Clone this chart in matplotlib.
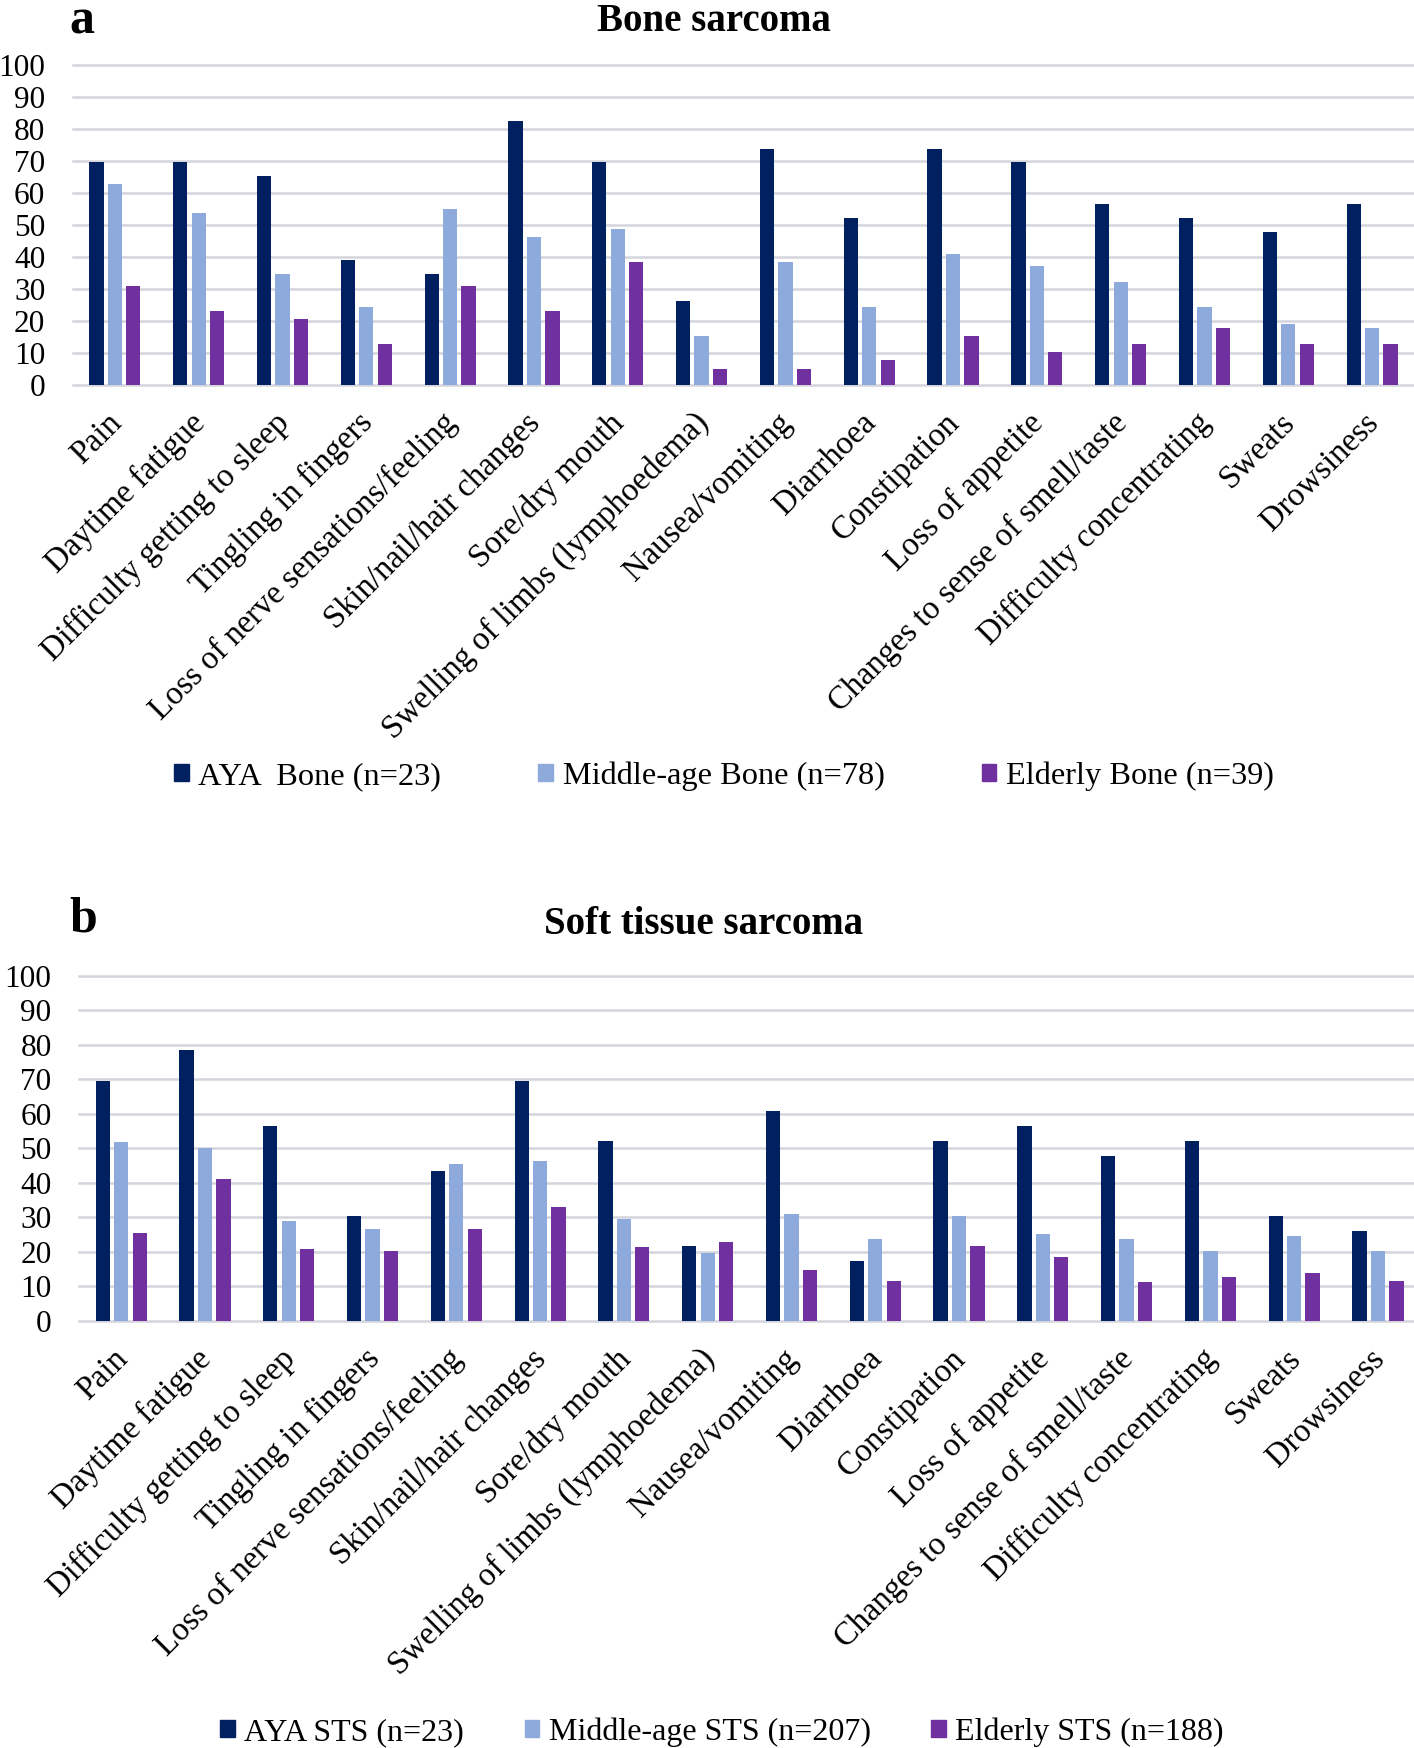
import matplotlib
matplotlib.use("Agg")
import matplotlib.pyplot as plt
import matplotlib.transforms as mtransforms
from matplotlib.patches import Patch
import numpy as np

plt.rcParams['font.family'] = ['Liberation Serif', 'DejaVu Serif']

symptoms = ["Pain", "Daytime fatigue", "Difficulty getting to sleep",
            "Tingling in fingers", "Loss of nerve sensations/feeling",
            "Skin/nail/hair changes", "Sore/dry mouth",
            "Swelling of limbs (lymphoedema)", "Nausea/vomiting", "Diarrhoea",
            "Constipation", "Loss of appetite", "Changes to sense of smell/taste",
            "Difficulty concentrating", "Sweats", "Drowsiness"]

# panel a: bone sarcoma (%)
bone_aya = [69.6, 69.6, 65.2, 39.1, 34.8, 82.6, 69.6, 26.1,
            73.9, 52.2, 73.9, 69.6, 56.5, 52.2, 47.8, 56.5]
bone_mid = [62.8, 53.8, 34.6, 24.4, 55.1, 46.2, 48.7, 15.4,
            38.5, 24.4, 41.0, 37.2, 32.1, 24.4, 19.2, 17.9]
bone_eld = [30.8, 23.1, 20.5, 12.8, 30.8, 23.1, 38.5, 5.1,
            5.1, 7.7, 15.4, 10.3, 12.8, 17.9, 12.8, 12.8]

# panel b: soft tissue sarcoma (%)
sts_aya = [69.6, 78.3, 56.5, 30.4, 43.5, 69.6, 52.2, 21.7,
           60.9, 17.4, 52.2, 56.5, 47.8, 52.2, 30.4, 26.1]
sts_mid = [51.7, 50.2, 29.0, 26.6, 45.4, 46.4, 29.5, 19.8,
           30.9, 23.7, 30.4, 25.1, 23.7, 20.3, 24.6, 20.3]
sts_eld = [25.5, 41.0, 20.7, 20.2, 26.6, 33.0, 21.3, 22.9,
           14.9, 11.7, 21.8, 18.6, 11.2, 12.8, 13.8, 11.7]

bone_labels = ["AYA  Bone (n=23)", "Middle-age Bone (n=78)", "Elderly Bone (n=39)"]
sts_labels = ["AYA STS (n=23)", "Middle-age STS (n=207)", "Elderly STS (n=188)"]

colors = ["#002060", "#8EA9DB", "#7030A0"]
grid_col = "#D4D4DC"

W, H = 1414, 1748
fig = plt.figure(figsize=(W / 100, H / 100), dpi=100)


def panel(rect, series, xmax):
    ax = fig.add_axes(rect)
    x = np.arange(len(symptoms))
    w = 0.17
    step = 0.22
    for i, vals in enumerate(series):
        ax.bar(x + (i - 1) * step, vals, width=w, color=colors[i], zorder=3)
    ax.set_xlim(-0.5, xmax)
    ax.set_ylim(0, 100)
    ax.set_yticks(range(0, 101, 10))
    ax.yaxis.grid(True, color=grid_col, linewidth=1.8)
    for gl in ax.get_ygridlines():
        gl.set_clip_on(False)
    ax.set_axisbelow(True)
    for s in ax.spines.values():
        s.set_visible(False)
    ax.tick_params(axis='y', length=0, pad=20, labelsize=22.5)
    ax.tick_params(axis='x', length=0, pad=24)
    ax.set_xticks(x)
    ax.set_xticklabels(symptoms, rotation=45, ha='right', va='center',
                       rotation_mode='anchor', fontsize=23.5)
    off = mtransforms.ScaledTranslation(2 / 100, 0, fig.dpi_scale_trans)
    for lab in ax.get_xticklabels():
        lab.set_transform(lab.get_transform() + off)
    return ax


ax1 = panel([73 / W, 1 - 385 / H, 1 - 73 / W, 320 / H],
            [bone_aya, bone_mid, bone_eld], 15.5)
ax2 = panel([79.3 / W, 1 - 1321 / H, 1 - 79.3 / W, 345.5 / H],
            [sts_aya, sts_mid, sts_eld], 15.43)

fig.text(714 / W, 1 - 31 / H, "Bone sarcoma", ha='center', va='baseline',
         fontsize=28, fontweight='bold')
fig.text(69 / W, 1 - 34 / H, "a", ha='left', va='baseline',
         fontsize=36, fontweight='bold')
fig.text(704 / W, 1 - 934 / H, "Soft tissue sarcoma", ha='center', va='baseline',
         fontsize=28, fontweight='bold')
fig.text(69 / W, 1 - 931 / H, "b", ha='left', va='baseline',
         fontsize=36, fontweight='bold')

h1 = [Patch(color=c) for c in colors]
fig.legend(h1, bone_labels, loc='center', bbox_to_anchor=(724 / W, 1 - 776 / H),
           ncol=3, frameon=False, fontsize=23.3, handlelength=0.45,
           handleheight=0.45, handletextpad=0.3, columnspacing=3.0)
fig.legend(h1, sts_labels, loc='center', bbox_to_anchor=(722 / W, 1 - 1732 / H),
           ncol=3, frameon=False, fontsize=23, handlelength=0.45,
           handleheight=0.45, handletextpad=0.3, columnspacing=1.9)

fig.savefig("out.png", dpi=100)
